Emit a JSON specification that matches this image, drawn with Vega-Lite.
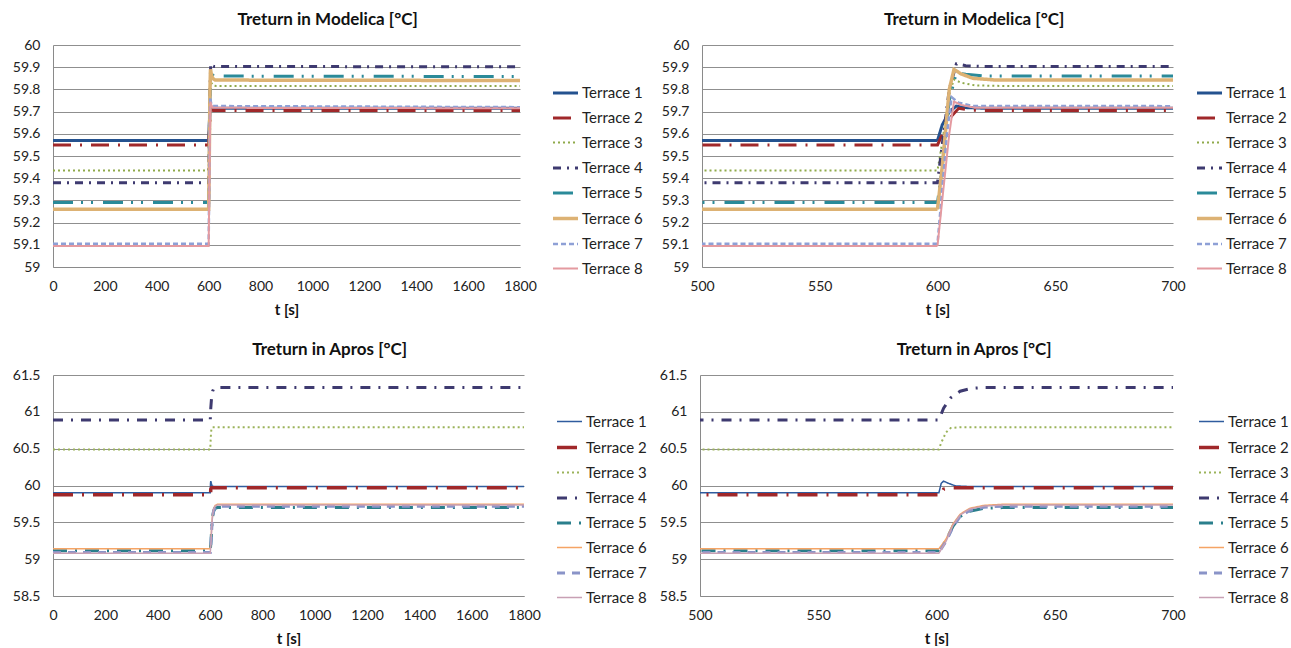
{
  "$schema": "https://vega.github.io/schema/vega-lite/v6.json",
  "padding": {"left": 12, "top": 11, "right": 0, "bottom": 0},
  "background": "white",
  "spacing": 24,
  "datasets": {
    "modelica": [
      {"series": "Terrace 1", "t": 0, "v": 59.57}, {"series": "Terrace 1", "t": 600, "v": 59.57}, {"series": "Terrace 1", "t": 602, "v": 59.64}, {"series": "Terrace 1", "t": 605, "v": 59.70}, {"series": "Terrace 1", "t": 608, "v": 59.725}, {"series": "Terrace 1", "t": 612, "v": 59.718}, {"series": "Terrace 1", "t": 620, "v": 59.715}, {"series": "Terrace 1", "t": 1800, "v": 59.715},
      {"series": "Terrace 2", "t": 0, "v": 59.55}, {"series": "Terrace 2", "t": 600, "v": 59.55}, {"series": "Terrace 2", "t": 603, "v": 59.62}, {"series": "Terrace 2", "t": 606, "v": 59.68}, {"series": "Terrace 2", "t": 609, "v": 59.715}, {"series": "Terrace 2", "t": 614, "v": 59.706}, {"series": "Terrace 2", "t": 620, "v": 59.705}, {"series": "Terrace 2", "t": 1800, "v": 59.705},
      {"series": "Terrace 3", "t": 0, "v": 59.435}, {"series": "Terrace 3", "t": 600, "v": 59.435}, {"series": "Terrace 3", "t": 602, "v": 59.56}, {"series": "Terrace 3", "t": 605, "v": 59.78}, {"series": "Terrace 3", "t": 607, "v": 59.845}, {"series": "Terrace 3", "t": 610, "v": 59.83}, {"series": "Terrace 3", "t": 616, "v": 59.818}, {"series": "Terrace 3", "t": 630, "v": 59.815}, {"series": "Terrace 3", "t": 1800, "v": 59.815},
      {"series": "Terrace 4", "t": 0, "v": 59.38}, {"series": "Terrace 4", "t": 600, "v": 59.38}, {"series": "Terrace 4", "t": 602, "v": 59.55}, {"series": "Terrace 4", "t": 605, "v": 59.80}, {"series": "Terrace 4", "t": 608, "v": 59.915}, {"series": "Terrace 4", "t": 612, "v": 59.907}, {"series": "Terrace 4", "t": 620, "v": 59.903}, {"series": "Terrace 4", "t": 1800, "v": 59.902},
      {"series": "Terrace 5", "t": 0, "v": 59.29}, {"series": "Terrace 5", "t": 600, "v": 59.29}, {"series": "Terrace 5", "t": 602, "v": 59.45}, {"series": "Terrace 5", "t": 605, "v": 59.75}, {"series": "Terrace 5", "t": 608, "v": 59.875}, {"series": "Terrace 5", "t": 612, "v": 59.868}, {"series": "Terrace 5", "t": 620, "v": 59.86}, {"series": "Terrace 5", "t": 1800, "v": 59.858},
      {"series": "Terrace 6", "t": 0, "v": 59.26}, {"series": "Terrace 6", "t": 600, "v": 59.26}, {"series": "Terrace 6", "t": 602, "v": 59.45}, {"series": "Terrace 6", "t": 605, "v": 59.80}, {"series": "Terrace 6", "t": 607, "v": 59.89}, {"series": "Terrace 6", "t": 610, "v": 59.87}, {"series": "Terrace 6", "t": 615, "v": 59.85}, {"series": "Terrace 6", "t": 625, "v": 59.842}, {"series": "Terrace 6", "t": 1800, "v": 59.84},
      {"series": "Terrace 7", "t": 0, "v": 59.105}, {"series": "Terrace 7", "t": 600, "v": 59.105}, {"series": "Terrace 7", "t": 602, "v": 59.35}, {"series": "Terrace 7", "t": 604, "v": 59.60}, {"series": "Terrace 7", "t": 606, "v": 59.765}, {"series": "Terrace 7", "t": 609, "v": 59.74}, {"series": "Terrace 7", "t": 615, "v": 59.725}, {"series": "Terrace 7", "t": 1800, "v": 59.72},
      {"series": "Terrace 8", "t": 0, "v": 59.095}, {"series": "Terrace 8", "t": 600, "v": 59.095}, {"series": "Terrace 8", "t": 602, "v": 59.30}, {"series": "Terrace 8", "t": 605, "v": 59.60}, {"series": "Terrace 8", "t": 607, "v": 59.745}, {"series": "Terrace 8", "t": 610, "v": 59.73}, {"series": "Terrace 8", "t": 616, "v": 59.717}, {"series": "Terrace 8", "t": 1800, "v": 59.715}
    ],
    "apros": [
      {"series": "Terrace 1", "t": 0, "v": 59.90}, {"series": "Terrace 1", "t": 601, "v": 59.90}, {"series": "Terrace 1", "t": 602, "v": 60.03}, {"series": "Terrace 1", "t": 603, "v": 60.06}, {"series": "Terrace 1", "t": 605, "v": 60.03}, {"series": "Terrace 1", "t": 608, "v": 59.995}, {"series": "Terrace 1", "t": 615, "v": 59.985}, {"series": "Terrace 1", "t": 1800, "v": 59.985},
      {"series": "Terrace 2", "t": 0, "v": 59.875}, {"series": "Terrace 2", "t": 602, "v": 59.875}, {"series": "Terrace 2", "t": 603, "v": 59.95}, {"series": "Terrace 2", "t": 606, "v": 59.97}, {"series": "Terrace 2", "t": 1800, "v": 59.97},
      {"series": "Terrace 3", "t": 0, "v": 60.49}, {"series": "Terrace 3", "t": 601, "v": 60.49}, {"series": "Terrace 3", "t": 602, "v": 60.58}, {"series": "Terrace 3", "t": 604, "v": 60.72}, {"series": "Terrace 3", "t": 606, "v": 60.78}, {"series": "Terrace 3", "t": 610, "v": 60.79}, {"series": "Terrace 3", "t": 1800, "v": 60.79},
      {"series": "Terrace 4", "t": 0, "v": 60.89}, {"series": "Terrace 4", "t": 601, "v": 60.89}, {"series": "Terrace 4", "t": 603, "v": 61.05}, {"series": "Terrace 4", "t": 606, "v": 61.19}, {"series": "Terrace 4", "t": 610, "v": 61.28}, {"series": "Terrace 4", "t": 615, "v": 61.32}, {"series": "Terrace 4", "t": 620, "v": 61.33}, {"series": "Terrace 4", "t": 1800, "v": 61.33},
      {"series": "Terrace 5", "t": 0, "v": 59.115}, {"series": "Terrace 5", "t": 601, "v": 59.115}, {"series": "Terrace 5", "t": 604, "v": 59.25}, {"series": "Terrace 5", "t": 607, "v": 59.45}, {"series": "Terrace 5", "t": 610, "v": 59.58}, {"series": "Terrace 5", "t": 614, "v": 59.65}, {"series": "Terrace 5", "t": 620, "v": 59.69}, {"series": "Terrace 5", "t": 628, "v": 59.70}, {"series": "Terrace 5", "t": 1800, "v": 59.70},
      {"series": "Terrace 6", "t": 0, "v": 59.14}, {"series": "Terrace 6", "t": 601, "v": 59.14}, {"series": "Terrace 6", "t": 604, "v": 59.27}, {"series": "Terrace 6", "t": 607, "v": 59.48}, {"series": "Terrace 6", "t": 610, "v": 59.61}, {"series": "Terrace 6", "t": 614, "v": 59.69}, {"series": "Terrace 6", "t": 620, "v": 59.73}, {"series": "Terrace 6", "t": 628, "v": 59.745}, {"series": "Terrace 6", "t": 1800, "v": 59.745},
      {"series": "Terrace 7", "t": 0, "v": 59.09}, {"series": "Terrace 7", "t": 601, "v": 59.09}, {"series": "Terrace 7", "t": 604, "v": 59.24}, {"series": "Terrace 7", "t": 607, "v": 59.44}, {"series": "Terrace 7", "t": 610, "v": 59.58}, {"series": "Terrace 7", "t": 614, "v": 59.66}, {"series": "Terrace 7", "t": 620, "v": 59.705}, {"series": "Terrace 7", "t": 628, "v": 59.72}, {"series": "Terrace 7", "t": 1800, "v": 59.72},
      {"series": "Terrace 8", "t": 0, "v": 59.08}, {"series": "Terrace 8", "t": 601, "v": 59.08}, {"series": "Terrace 8", "t": 604, "v": 59.24}, {"series": "Terrace 8", "t": 607, "v": 59.46}, {"series": "Terrace 8", "t": 610, "v": 59.60}, {"series": "Terrace 8", "t": 614, "v": 59.68}, {"series": "Terrace 8", "t": 620, "v": 59.72}, {"series": "Terrace 8", "t": 628, "v": 59.735}, {"series": "Terrace 8", "t": 1800, "v": 59.735}
    ]
  },
  "config": {
    "font": "Lato",
    "view": {"stroke": null},
    "axis": {"labelFont": "Lato", "labelFontSize": 14, "labelColor": "#222", "ticks": false, "labelPadding": 13, "labelFlush": false, "labelOverlap": false, "domainColor": "#8a8a8a", "gridColor": "#8f8f8f", "titleFont": "Lato", "titleFontSize": 15, "titleFontWeight": "bold", "titleColor": "#111"},
    "axisX": {"grid": false, "titlePadding": 9, "labelPadding": 12},
    "axisY": {"grid": true, "title": null},
    "legend": {"symbolType": "stroke", "symbolSize": 625, "labelFont": "Lato", "labelFontSize": 15, "labelColor": "#222", "labelOffset": 2, "rowPadding": 3, "title": null, "orient": "none"},
    "title": {"font": "Lato", "fontSize": 17, "fontWeight": "bold", "color": "#111", "frame": "bounds", "anchor": "middle", "offset": 9},
    "line": {"clip": true}
  },
  "resolve": {"scale": {"color": "independent", "strokeDash": "independent", "strokeWidth": "independent"}, "legend": {"color": "independent", "strokeDash": "independent", "strokeWidth": "independent"}},
  "vconcat": [
    {
      "spacing": 18,
      "resolve": {"scale": {"color": "independent", "strokeDash": "independent", "strokeWidth": "independent"}},
      "hconcat": [
        {
          "title": "Treturn  in Modelica [°C]",
          "width": 467, "height": 222,
          "data": {"name": "modelica"},
          "mark": {"type": "line", "clip": true},
          "encoding": {
            "x": {"field": "t", "type": "quantitative", "title": "t [s]", "scale": {"domain": [0, 1800], "nice": false}, "axis": {"values": [0, 200, 400, 600, 800, 1000, 1200, 1400, 1600, 1800], "format": "d"}},
            "y": {"field": "v", "type": "quantitative", "scale": {"domain": [59, 60], "nice": false, "zero": false}, "axis": {"values": [59, 59.1, 59.2, 59.3, 59.4, 59.5, 59.6, 59.7, 59.8, 59.9, 60], "format": ".1~f"}},
            "color": {"field": "series", "type": "nominal", "scale": {"domain": ["Terrace 1", "Terrace 2", "Terrace 3", "Terrace 4", "Terrace 5", "Terrace 6", "Terrace 7", "Terrace 8"], "range": ["#24528F", "#A0282A", "#8FAA4A", "#3E3A70", "#2A8A99", "#DDB274", "#8EA0D6", "#E49AA0"]}, "legend": {"legendX": 498, "legendY": 34}},
            "strokeDash": {"field": "series", "type": "nominal", "scale": {"domain": ["Terrace 1", "Terrace 2", "Terrace 3", "Terrace 4", "Terrace 5", "Terrace 6", "Terrace 7", "Terrace 8"], "range": [[1, 0], [18, 9, 2, 9], [2, 3], [8, 6, 2, 6], [20, 8, 2, 8, 2, 10], [1, 0], [5, 3], [1, 0]]}, "legend": {"legendX": 498, "legendY": 34}},
            "strokeWidth": {"field": "series", "type": "nominal", "scale": {"type": "ordinal", "domain": ["Terrace 1", "Terrace 2", "Terrace 3", "Terrace 4", "Terrace 5", "Terrace 6", "Terrace 7", "Terrace 8"], "range": [3, 3, 2, 3, 3, 3.5, 2.5, 2]}, "legend": {"legendX": 498, "legendY": 34}}
          }
        },
        {
          "title": "Treturn  in Modelica [°C]",
          "width": 471, "height": 222,
          "data": {"name": "modelica"},
          "mark": {"type": "line", "clip": true},
          "encoding": {
            "x": {"field": "t", "type": "quantitative", "title": "t [s]", "scale": {"domain": [500, 700], "nice": false}, "axis": {"values": [500, 550, 600, 650, 700], "format": "d"}},
            "y": {"field": "v", "type": "quantitative", "scale": {"domain": [59, 60], "nice": false, "zero": false}, "axis": {"values": [59, 59.1, 59.2, 59.3, 59.4, 59.5, 59.6, 59.7, 59.8, 59.9, 60], "format": ".1~f"}},
            "color": {"field": "series", "type": "nominal", "scale": {"domain": ["Terrace 1", "Terrace 2", "Terrace 3", "Terrace 4", "Terrace 5", "Terrace 6", "Terrace 7", "Terrace 8"], "range": ["#24528F", "#A0282A", "#8FAA4A", "#3E3A70", "#2A8A99", "#DDB274", "#8EA0D6", "#E49AA0"]}, "legend": {"legendX": 493, "legendY": 34}},
            "strokeDash": {"field": "series", "type": "nominal", "scale": {"domain": ["Terrace 1", "Terrace 2", "Terrace 3", "Terrace 4", "Terrace 5", "Terrace 6", "Terrace 7", "Terrace 8"], "range": [[1, 0], [18, 9, 2, 9], [2, 3], [8, 6, 2, 6], [20, 8, 2, 8, 2, 10], [1, 0], [5, 3], [1, 0]]}, "legend": {"legendX": 493, "legendY": 34}},
            "strokeWidth": {"field": "series", "type": "nominal", "scale": {"type": "ordinal", "domain": ["Terrace 1", "Terrace 2", "Terrace 3", "Terrace 4", "Terrace 5", "Terrace 6", "Terrace 7", "Terrace 8"], "range": [3, 3, 2, 3, 3, 3.5, 2.5, 2]}, "legend": {"legendX": 493, "legendY": 34}}
          }
        }
      ]
    },
    {
      "spacing": 12,
      "resolve": {"scale": {"color": "independent", "strokeDash": "independent", "strokeWidth": "independent"}},
      "hconcat": [
        {
          "title": "Treturn  in Apros [°C]",
          "width": 471, "height": 221,
          "data": {"name": "apros"},
          "mark": {"type": "line", "clip": true},
          "encoding": {
            "x": {"field": "t", "type": "quantitative", "title": "t [s]", "scale": {"domain": [0, 1800], "nice": false}, "axis": {"values": [0, 200, 400, 600, 800, 1000, 1200, 1400, 1600, 1800], "format": "d"}},
            "y": {"field": "v", "type": "quantitative", "scale": {"domain": [58.5, 61.5], "nice": false, "zero": false}, "axis": {"values": [58.5, 59, 59.5, 60, 60.5, 61, 61.5], "format": ".1~f"}},
            "color": {"field": "series", "type": "nominal", "scale": {"domain": ["Terrace 1", "Terrace 2", "Terrace 3", "Terrace 4", "Terrace 5", "Terrace 6", "Terrace 7", "Terrace 8"], "range": ["#2F5C9E", "#A0282A", "#9BB35A", "#3E3A70", "#2A7F8C", "#F5A465", "#8A94C8", "#C8A0B4"]}, "legend": {"legendX": 502, "legendY": 33}},
            "strokeDash": {"field": "series", "type": "nominal", "scale": {"domain": ["Terrace 1", "Terrace 2", "Terrace 3", "Terrace 4", "Terrace 5", "Terrace 6", "Terrace 7", "Terrace 8"], "range": [[1, 0], [20, 9, 2, 9], [2, 3], [10, 8, 2, 8], [14, 8, 2, 8], [1, 0], [8, 7], [1, 0]]}, "legend": {"legendX": 502, "legendY": 33}},
            "strokeWidth": {"field": "series", "type": "nominal", "scale": {"type": "ordinal", "domain": ["Terrace 1", "Terrace 2", "Terrace 3", "Terrace 4", "Terrace 5", "Terrace 6", "Terrace 7", "Terrace 8"], "range": [1.5, 3.5, 2, 3, 3, 1.5, 3, 1.5]}, "legend": {"legendX": 502, "legendY": 33}}
          }
        },
        {
          "title": "Treturn  in Apros [°C]",
          "width": 473, "height": 221,
          "data": {"name": "apros"},
          "mark": {"type": "line", "clip": true},
          "encoding": {
            "x": {"field": "t", "type": "quantitative", "title": "t [s]", "scale": {"domain": [500, 700], "nice": false}, "axis": {"values": [500, 550, 600, 650, 700], "format": "d"}},
            "y": {"field": "v", "type": "quantitative", "scale": {"domain": [58.5, 61.5], "nice": false, "zero": false}, "axis": {"values": [58.5, 59, 59.5, 60, 60.5, 61, 61.5], "format": ".1~f"}},
            "color": {"field": "series", "type": "nominal", "scale": {"domain": ["Terrace 1", "Terrace 2", "Terrace 3", "Terrace 4", "Terrace 5", "Terrace 6", "Terrace 7", "Terrace 8"], "range": ["#2F5C9E", "#A0282A", "#9BB35A", "#3E3A70", "#2A7F8C", "#F5A465", "#8A94C8", "#C8A0B4"]}, "legend": {"legendX": 497, "legendY": 33}},
            "strokeDash": {"field": "series", "type": "nominal", "scale": {"domain": ["Terrace 1", "Terrace 2", "Terrace 3", "Terrace 4", "Terrace 5", "Terrace 6", "Terrace 7", "Terrace 8"], "range": [[1, 0], [20, 9, 2, 9], [2, 3], [10, 8, 2, 8], [14, 8, 2, 8], [1, 0], [8, 7], [1, 0]]}, "legend": {"legendX": 497, "legendY": 33}},
            "strokeWidth": {"field": "series", "type": "nominal", "scale": {"type": "ordinal", "domain": ["Terrace 1", "Terrace 2", "Terrace 3", "Terrace 4", "Terrace 5", "Terrace 6", "Terrace 7", "Terrace 8"], "range": [1.5, 3.5, 2, 3, 3, 1.5, 3, 1.5]}, "legend": {"legendX": 497, "legendY": 33}}
          }
        }
      ]
    }
  ]
}
